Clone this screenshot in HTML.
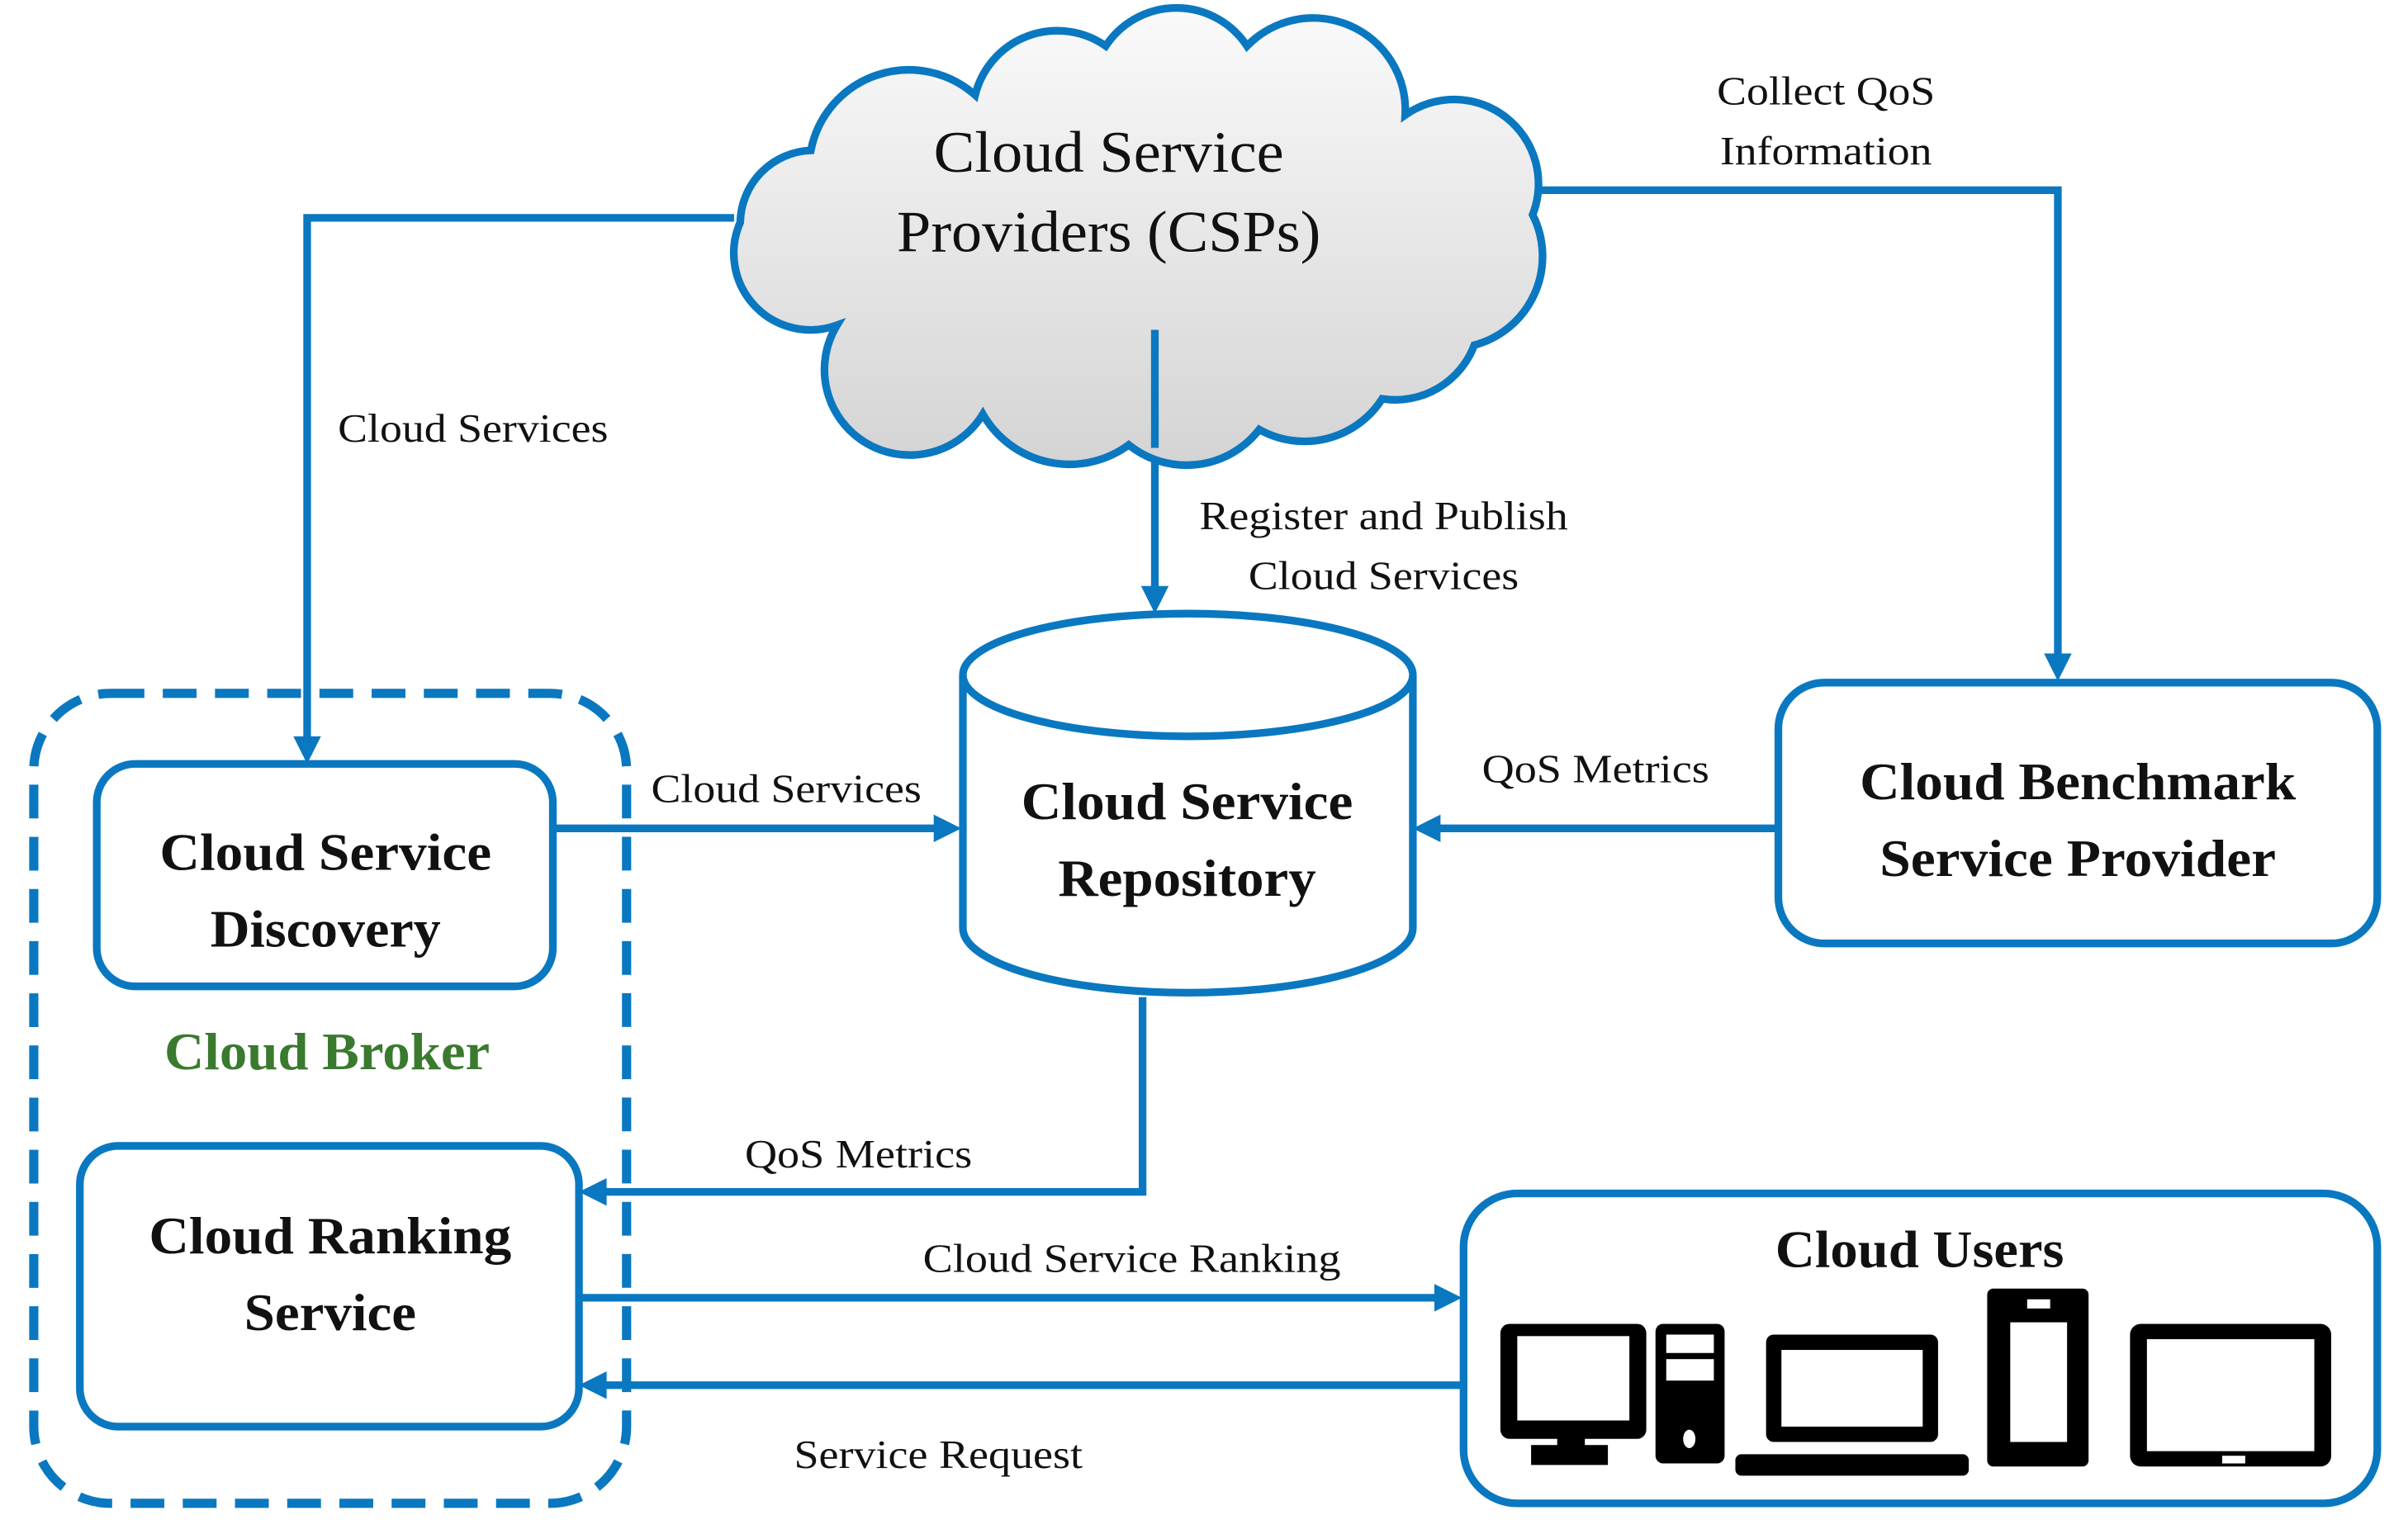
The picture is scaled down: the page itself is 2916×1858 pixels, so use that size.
<!DOCTYPE html>
<html><head><meta charset="utf-8"><style>
html,body{margin:0;padding:0;background:#fff;}
svg{display:block;}
text{font-family:"Liberation Serif",serif;fill:#111;}
.l{font-size:26px;}
.b{font-size:34px;font-weight:bold;}
</style></head><body>
<svg width="2916" height="1858" viewBox="0 0 1568 1000" preserveAspectRatio="none" xmlns="http://www.w3.org/2000/svg">
<defs>
<linearGradient id="g" x1="0" y1="0" x2="0" y2="1"><stop offset="0" stop-color="#fafafa"/><stop offset="1" stop-color="#d4d4d4"/></linearGradient>
</defs>
<g fill="none" stroke="#0a78c0" stroke-width="5">
<polyline points="478,142 200,142 200,482"/>
<line x1="752" y1="215" x2="752" y2="385"/>
<polyline points="995,124 1340,124 1340,428"/>
<line x1="1158" y1="540" x2="935" y2="540"/>
<line x1="360" y1="540" x2="610" y2="540"/>
<polyline points="744,650 744,777 392,777"/>
<line x1="378" y1="846" x2="937" y2="846"/>
<line x1="952" y1="903" x2="392" y2="903"/>
</g>
<g fill="#0a78c0">
<polygon points="191,480 209,480 200,498"/>
<polygon points="743,382 761,382 752,400"/>
<polygon points="1331,426 1349,426 1340,444"/>
<polygon points="938,531 938,549 920,540"/>
<polygon points="608,531 608,549 626,540"/>
<polygon points="395,768 395,786 377,777"/>
<polygon points="934,837 934,855 952,846"/>
<polygon points="395,894 395,912 377,903"/>
</g>
<path d="M545,212 A50,50 0 0 1 482,145 A48,48 0 0 1 528,98 A65,65 0 0 1 635,62 A55,55 0 0 1 720,30 A55,55 0 0 1 812,30 A60,60 0 0 1 915,75 A55,55 0 0 1 998,140 A60,60 0 0 1 960,225 A55,55 0 0 1 900,260 A60,60 0 0 1 820,280 A60,60 0 0 1 735,290 A65,65 0 0 1 640,270 A55,55 0 0 1 545,212 Z" fill="url(#g)" stroke="#0a78c0" stroke-width="5"/>
<line x1="752" y1="215" x2="752" y2="292" stroke="#0a78c0" stroke-width="5"/>
<text x="722" y="112" text-anchor="middle" style="font-size:38px" textLength="228" lengthAdjust="spacingAndGlyphs">Cloud Service</text>
<text x="722" y="164" text-anchor="middle" style="font-size:38px" textLength="276" lengthAdjust="spacingAndGlyphs">Providers (CSPs)</text>
<path d="M627,440 L627,605 A146,42 0 0 0 920,605 L920,440" fill="#fff" stroke="#0a78c0" stroke-width="5"/>
<ellipse cx="773.5" cy="440" rx="146.5" ry="40" fill="#fff" stroke="#0a78c0" stroke-width="5"/>
<text x="773" y="534" text-anchor="middle" class="b" textLength="216" lengthAdjust="spacingAndGlyphs">Cloud Service</text>
<text x="773" y="584" text-anchor="middle" class="b" textLength="168" lengthAdjust="spacingAndGlyphs">Repository</text>
<g fill="none" stroke="#0a78c0" stroke-width="5">
<rect x="1158" y="445" width="390" height="170" rx="30"/>
<rect x="22" y="452" width="386" height="528" rx="50" stroke-dasharray="22,12" stroke-width="6"/>
<rect x="63" y="498" width="297" height="145" rx="25"/>
<rect x="52" y="747" width="325" height="183" rx="25"/>
<rect x="953" y="778" width="595" height="202" rx="35"/>
</g>
<text x="1353" y="521" text-anchor="middle" class="b" textLength="284" lengthAdjust="spacingAndGlyphs">Cloud Benchmark</text>
<text x="1353" y="571" text-anchor="middle" class="b" textLength="258" lengthAdjust="spacingAndGlyphs">Service Provider</text>
<text x="212" y="567" text-anchor="middle" class="b" textLength="216" lengthAdjust="spacingAndGlyphs">Cloud Service</text>
<text x="212" y="617" text-anchor="middle" class="b" textLength="150" lengthAdjust="spacingAndGlyphs">Discovery</text>
<text x="213" y="697" text-anchor="middle" class="b" style="fill:#3a7a2e" textLength="212" lengthAdjust="spacingAndGlyphs">Cloud Broker</text>
<text x="215" y="817" text-anchor="middle" class="b" textLength="236" lengthAdjust="spacingAndGlyphs">Cloud Ranking</text>
<text x="215" y="867" text-anchor="middle" class="b" textLength="112" lengthAdjust="spacingAndGlyphs">Service</text>
<text x="1250" y="826" text-anchor="middle" class="b" textLength="188" lengthAdjust="spacingAndGlyphs">Cloud Users</text>
<text x="1189" y="68" text-anchor="middle" class="l" textLength="142" lengthAdjust="spacingAndGlyphs">Collect QoS</text>
<text x="1189" y="107" text-anchor="middle" class="l" textLength="138" lengthAdjust="spacingAndGlyphs">Information</text>
<text x="308" y="288" text-anchor="middle" class="l" textLength="176" lengthAdjust="spacingAndGlyphs">Cloud Services</text>
<text x="901" y="345" text-anchor="middle" class="l" textLength="240" lengthAdjust="spacingAndGlyphs">Register and Publish</text>
<text x="901" y="384" text-anchor="middle" class="l" textLength="176" lengthAdjust="spacingAndGlyphs">Cloud Services</text>
<text x="1039" y="510" text-anchor="middle" class="l" textLength="148" lengthAdjust="spacingAndGlyphs">QoS Metrics</text>
<text x="512" y="523" text-anchor="middle" class="l" textLength="176" lengthAdjust="spacingAndGlyphs">Cloud Services</text>
<text x="559" y="761" text-anchor="middle" class="l" textLength="148" lengthAdjust="spacingAndGlyphs">QoS Metrics</text>
<text x="737" y="829" text-anchor="middle" class="l" textLength="272" lengthAdjust="spacingAndGlyphs">Cloud Service Ranking</text>
<text x="611" y="957" text-anchor="middle" class="l" textLength="188" lengthAdjust="spacingAndGlyphs">Service Request</text>
<g fill="#000">
<rect x="977" y="863" width="95" height="75" rx="6"/>
<rect x="1014" y="935" width="18" height="10"/>
<rect x="997" y="942" width="50" height="13"/>
<rect x="1078" y="863" width="45" height="91" rx="5"/>
<rect x="1150" y="870" width="112" height="70" rx="5"/>
<rect x="1130" y="948" width="152" height="14" rx="4"/>
<rect x="1294" y="840" width="66" height="116" rx="4"/>
<rect x="1387" y="863" width="131" height="93" rx="7"/>
</g>
<g fill="#fff">
<rect x="988" y="871" width="73" height="55"/>
<rect x="1085" y="870" width="31" height="12"/>
<rect x="1085" y="886" width="31" height="14"/>
<ellipse cx="1100" cy="938" rx="4" ry="6"/>
<rect x="1160" y="880" width="92" height="50"/>
<rect x="1309" y="862" width="37" height="78"/>
<rect x="1320" y="847" width="15" height="6"/>
<rect x="1398" y="873" width="109" height="73"/>
<rect x="1447" y="949" width="15" height="5"/>
</g>
</svg>
</body></html>
